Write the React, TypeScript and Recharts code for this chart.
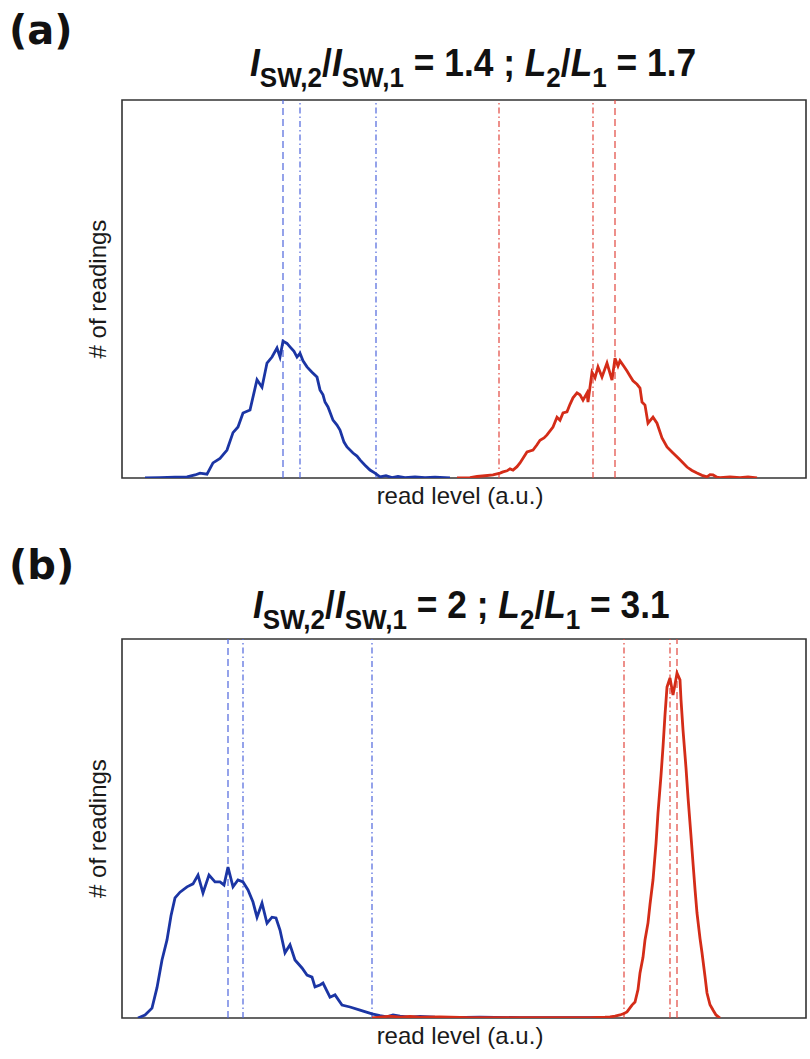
import React from 'react';
import { LineChart, Line, XAxis, YAxis, ReferenceLine, ReferenceArea, Label } from 'recharts';

// read level (a.u.) vs # of readings
const blueA = [
  [23,0],[38,0.1],[53,0.2],[65,0.3],[73,0.8],[78,1.3],[85,1.0],[91,4],[98,5.2],[105,7.4],[111,12],[116,13.5],
  [121,17.2],[128,18],[135,26],[140,24],[145,30.4],[150,32],[155,34.4],[158,32],[161,36.2],[165,35.6],[168,34.7],
  [172,33.5],[175,32],[178,33],[181,31],[185,29.4],[190,28],[195,26.7],[198,23.3],[201,22],[203,20.1],[206,18.8],
  [211,15.3],[215,14],[218,12.7],[222,9.5],[225,8.2],[231,6.6],[235,5.8],[238,4.8],[243,3.4],[248,2.1],[253,1.3],
  [258,0.3],[264,0.6],[270,0.1],[276,0.4],[283,0.1],[293,0.3],[303,0.1],[313,0.2],[328,0],
].map(([x, y]) => ({ x, y }));

const redA = [
  [335,0],[348,0.1],[355,0.4],[363,0.6],[371,0.8],[378,1.3],[381,1.6],[385,1.9],[388,2.4],[391,2.1],[395,3],[398,4],
  [405,6.9],[411,7.4],[415,8.8],[418,10],[422,10.6],[425,11.4],[431,13.5],[435,16.1],[438,15.3],[441,17.2],[445,17.5],
  [448,19.5],[451,21.2],[455,22.5],[458,22],[461,20.6],[465,22.5],[466,20.1],[470,28],[473,26.5],[476,29.4],[480,26.7],
  [485,30.4],[490,25.9],[493,31.7],[496,29.6],[498,31],[502,29.5],[505,28.3],[508,27],[511,25.7],[515,24.8],[518,23.8],
  [520,20.1],[523,19.3],[526,14.5],[531,16.1],[535,14.5],[540,10.6],[545,8.2],[551,6.6],[558,4.8],[565,2.9],[570,2.0],
  [575,1.3],[580,0.7],[585,0.3],[588,0.9],[591,0.8],[595,0.2],[598,0.1],[608,0.3],[618,0.1],[626,0.3],[635,0],
].map(([x, y]) => ({ x, y }));

const blueB = [
  [16,0],[23,0.8],[30,2.6],[35,8],[40,15.3],[45,20.6],[49,27],[53,31.7],[58,33.2],[65,34.6],[71,35.4],[76,37.7],
  [81,33],[87,37.7],[93,35.9],[98,35.9],[102,35.1],[106,39.8],[111,34.6],[116,36.4],[121,35.9],[126,33.8],[131,30.6],
  [135,26.6],[140,30.3],[145,25],[150,26.6],[154,26.4],[158,23.2],[163,17.2],[168,19.3],[173,15.3],[180,13.2],
  [185,11.3],[190,10.8],[193,8.2],[198,8.7],[201,9.2],[208,5.5],[213,6.1],[220,3.4],[228,2.9],[238,2.1],[250,1.1],
  [258,0.6],[265,0.3],[271,0.8],[278,0.5],[288,0.2],[298,0.4],[313,0.2],[328,0.1],[358,0.2],[398,0.1],[438,0.1],
  [478,0.1],[488,0],
].map(([x, y]) => ({ x, y }));

const redB = [
  [250,0],[258,0.2],[268,0.5],[278,0.2],[288,0.4],[298,0.2],[318,0.3],[348,0.1],[378,0.1],[428,0.1],[468,0.1],
  [483,0.2],[488,0.3],[493,0.5],[498,0.8],[502,1.2],[505,1.6],[510,3.4],[513,4.2],[516,7.5],[518,11.9],[521,16],
  [523,20.6],[526,25.1],[528,30],[531,36.4],[534,46],[536,54.1],[539,64],[541,71.5],[543,80],[545,87.3],[548,89.7],
  [551,85.2],[553,88],[555,91],[558,89.2],[559,84],[561,76],[564,66],[566,58.3],[569,48],[571,40.9],[573,34],
  [575,27.7],[578,21],[580,17.2],[583,11],[585,6.6],[588,3.5],[591,2.1],[594,0.8],[598,0],
].map(([x, y]) => ({ x, y }));

// vertical markers: [position, style]
const markersBlueA: [number, string][] = [[161, 'dash'], [178, 'dashdot'], [254, 'dashdot']];
const markersRedA: [number, string][] = [[377, 'dashdot'], [471, 'dashdot'], [493, 'dash']];
const markersBlueB: [number, string][] = [[106, 'dash'], [121, 'dashdot'], [250, 'dashdot']];
const markersRedB: [number, string][] = [[502, 'dashdot'], [548, 'dashdot'], [555, 'dash']];

const X_LABEL = 'read level (a.u.)';
const Y_LABEL = '# of readings';

const X_DOMAIN: [number, number] = [0, 684];
const Y_DOMAIN: [number, number] = [0, 100];

const BLUE = '#1b35a4';
const RED = '#d42c18';
const BLUE_REF = '#4f66dc';
const RED_REF = '#e2463e';

const dashOf = (s: string) => (s === 'dash' ? '7 4' : '6 3 1.5 3');

const labelFont = 'Liberation Sans, Arial, sans-serif';

const xLabelContent = (props: any) => {
  const vb = props.viewBox || {};
  const cx = vb.x + vb.width / 2 - 4;
  const cy = vb.y + 26;
  return (
    <text x={cx} y={cy} textAnchor="middle" fontFamily={labelFont} fontSize={24} fill="#1a1a1a">
      {X_LABEL}
    </text>
  );
};

const yLabelContent = (props: any) => {
  const vb = props.viewBox || {};
  const cx = vb.x + vb.width / 2 + 6;
  const cy = vb.y + vb.height / 2;
  return (
    <text x={cx} y={cy} textAnchor="middle" fontFamily={labelFont} fontSize={24} fill="#1a1a1a" transform={`rotate(-90, ${cx}, ${cy})`}>
      {Y_LABEL}
    </text>
  );
};

function Panel({ blue, red, mb, mr, height, top, bottom }: any) {
  return (
    <LineChart
      width={810}
      height={height}
      margin={{ top, right: 4, left: 78, bottom }}
    >
      <XAxis
        type="number"
        dataKey="x"
        domain={X_DOMAIN}
        allowDataOverflow
        tick={false}
        axisLine={false}
        tickLine={false}
        height={40}
      >
        <Label content={xLabelContent} />
      </XAxis>
      <YAxis
        type="number"
        domain={Y_DOMAIN}
        allowDataOverflow
        tick={false}
        axisLine={false}
        tickLine={false}
        width={44}
      >
        <Label content={yLabelContent} />
      </YAxis>
      {mb.map(([p, s]: [number, string], i: number) => (
        <ReferenceLine key={'b' + i} x={p} stroke={BLUE_REF} strokeWidth={1.2} strokeDasharray={dashOf(s)} />
      ))}
      {mr.map(([p, s]: [number, string], i: number) => (
        <ReferenceLine key={'r' + i} x={p} stroke={RED_REF} strokeWidth={1.2} strokeDasharray={dashOf(s)} />
      ))}
      <Line data={blue} dataKey="y" type="linear" stroke={BLUE} strokeWidth={2.8} dot={false} isAnimationActive={false} />
      <Line data={red} dataKey="y" type="linear" stroke={RED} strokeWidth={2.8} dot={false} isAnimationActive={false} />
      <ReferenceArea x1={X_DOMAIN[0]} x2={X_DOMAIN[1]} y1={Y_DOMAIN[0]} y2={Y_DOMAIN[1]} fill="none" fillOpacity={0} stroke="#333" strokeWidth={1.6} />
    </LineChart>
  );
}

const titleStyle: React.CSSProperties = {
  position: 'absolute',
  fontFamily: 'Liberation Sans, Arial, sans-serif',
  fontWeight: 'bold',
  fontSize: 38,
  lineHeight: '38px',
  whiteSpace: 'nowrap',
  color: '#111',
  transform: 'scaleX(0.93)',
  transformOrigin: 'left top',
};
const subStyle: React.CSSProperties = { fontSize: 28, verticalAlign: '-11px', lineHeight: 0 };
const tagStyle: React.CSSProperties = {
  position: 'absolute',
  fontFamily: 'DejaVu Sans, sans-serif',
  fontWeight: 'bold',
  fontSize: 40,
  lineHeight: '40px',
  color: '#111',
};

function Title({ r1, r2, left, top }: { r1: string; r2: string; left: number; top: number }) {
  return (
    <div style={{ ...titleStyle, left, top }}>
      <i>I</i><span style={subStyle}>SW,2</span>/<i>I</i><span style={subStyle}>SW,1</span> = {r1} ; <i>L</i>
      <span style={subStyle}>2</span>/<i>L</i><span style={subStyle}>1</span> = {r2}
    </div>
  );
}

export default function App() {
  return (
    <div style={{ position: 'absolute', left: 0, top: 0, width: 810, height: 1059, background: '#fff' }}>
      <div style={{ ...tagStyle, left: 9, top: 10 }}>(a)</div>
      <Title r1="1.4" r2="1.7" left={250} top={44} />
      <div style={{ position: 'absolute', left: 0, top: 0 }}>
        <Panel blue={blueA} red={redA} mb={markersBlueA} mr={markersRedA} height={540} top={100} bottom={22} />
      </div>
      <div style={{ ...tagStyle, left: 9, top: 545 }}>(b)</div>
      <Title r1="2" r2="3.1" left={253} top={586} />
      <div style={{ position: 'absolute', left: 0, top: 540 }}>
        <Panel blue={blueB} red={redB} mb={markersBlueB} mr={markersRedB} height={519} top={99} bottom={1} />
      </div>
    </div>
  );
}
